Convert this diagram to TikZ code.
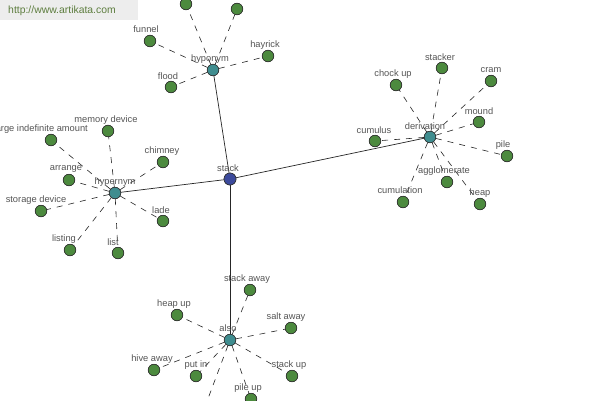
\documentclass[tikz,border=0pt]{standalone}
\usepackage{fontspec}
\setmainfont{Liberation Sans}
\begin{document}
\begin{tikzpicture}[x=1pt,y=-1pt,
  leaf/.style={circle,draw=black!80,line width=0.6pt,fill=leafgreen,minimum size=11.5pt,inner sep=0pt},
  hub/.style={circle,draw=black!80,line width=0.6pt,fill=hubteal,minimum size=11.5pt,inner sep=0pt},
  root/.style={circle,draw=black!80,line width=0.6pt,fill=rootblue,minimum size=12pt,inner sep=0pt},
  lbl/.style={text=labelgray,font=\fontsize{9.3}{10}\selectfont,inner sep=0pt},
  rel/.style={line width=0.7pt,black!85},
  sub/.style={line width=0.6pt,black!85,dash pattern=on 6pt off 6pt}]
\definecolor{leafgreen}{HTML}{4C8A3E}
\definecolor{hubteal}{HTML}{3F8D8F}
\definecolor{rootblue}{HTML}{3C4A9C}
\definecolor{labelgray}{HTML}{555555}
\definecolor{wmgray}{HTML}{EDEDED}
\definecolor{wmgreen}{HTML}{5D7D3E}
\useasboundingbox (0,0) rectangle (600,400);
\clip (0,0) rectangle (600,400);
\fill[white] (0,0) rectangle (600,400);
% watermark
\fill[wmgray] (0,0) rectangle (138,20);
\node[text=wmgreen,font=\fontsize{10.4}{11}\selectfont,inner sep=0pt] (wm) at (62,11) {http://www.artikata.com};
% hubs
\node[root] (stack) at (230,179) {};
\node[hub] (hypo) at (213,70) {};
\node[hub] (hyper) at (115,193) {};
\node[hub] (deriv) at (430,137) {};
\node[hub] (also) at (230,340) {};
% hyponym leaves
\node[leaf] (h1) at (186,4) {};
\node[leaf] (h2) at (237,9) {};
\node[leaf] (funnel) at (150,41) {};
\node[leaf] (hayrick) at (268,56) {};
\node[leaf] (flood) at (171,87) {};
% hypernym leaves
\node[leaf] (lia) at (51,140) {};
\node[leaf] (memdev) at (108,131) {};
\node[leaf] (chimney) at (163,162) {};
\node[leaf] (arrange) at (69,180) {};
\node[leaf] (stordev) at (41,211) {};
\node[leaf] (lade) at (163,221) {};
\node[leaf] (listing) at (70,250) {};
\node[leaf] (list) at (118,253) {};
% derivation leaves
\node[leaf] (stacker) at (442,68) {};
\node[leaf] (chockup) at (396,85) {};
\node[leaf] (cram) at (491,81) {};
\node[leaf] (mound) at (479,122) {};
\node[leaf] (cumulus) at (375,141) {};
\node[leaf] (pile) at (507,156) {};
\node[leaf] (agglom) at (447,182) {};
\node[leaf] (cumulation) at (403,202) {};
\node[leaf] (heap) at (480,204) {};
% also leaves
\node[leaf] (stackaway) at (250,290) {};
\node[leaf] (heapup) at (177,315) {};
\node[leaf] (saltaway) at (291,328) {};
\node[leaf] (hiveaway) at (154,370) {};
\node[leaf] (putin) at (196,376) {};
\node[leaf] (stackup) at (292,376) {};
\node[leaf] (pileup) at (251,399) {};
\node[leaf] (a8) at (203,412) {};
% connectors
\draw[rel] (stack) -- (hypo);
\draw[rel] (stack) -- (hyper);
\draw[rel] (stack) -- (deriv);
\draw[rel] (stack) -- (also);
\foreach \l in {h1,h2,funnel,hayrick,flood} \draw[sub] (hypo) -- (\l);
\foreach \l in {lia,memdev,chimney,arrange,stordev,lade,listing,list} \draw[sub] (hyper) -- (\l);
\foreach \l in {stacker,chockup,cram,mound,cumulus,pile,agglom,cumulation,heap} \draw[sub] (deriv) -- (\l);
\foreach \l in {stackaway,heapup,saltaway,hiveaway,putin,stackup,pileup,a8} \draw[sub] (also) -- (\l);
% redraw nodes on top
\foreach \n/\p in {h1/{186,4},h2/{237,9},funnel/{150,41},hayrick/{268,56},flood/{171,87},
  lia/{51,140},memdev/{108,131},chimney/{163,162},arrange/{69,180},stordev/{41,211},lade/{163,221},listing/{70,250},list/{118,253},
  stacker/{442,68},chockup/{396,85},cram/{491,81},mound/{479,122},cumulus/{375,141},pile/{507,156},agglom/{447,182},cumulation/{403,202},heap/{480,204},
  stackaway/{250,290},heapup/{177,315},saltaway/{291,328},hiveaway/{154,370},putin/{196,376},stackup/{292,376},pileup/{251,399},a8/{203,412}}
  \node[leaf] at (\p) {};
\node[root] at (230,179) {};
\foreach \p in {{213,70},{115,193},{430,137},{230,340}} \node[hub] at (\p) {};
% labels
\node[lbl] (Lstack) at (228,168) {stack};
\node[lbl] (Lhypo) at (210,59) {hyponym};
\node[lbl] (Lhyper) at (115,182) {hypernym};
\node[lbl] (Lderiv) at (425,126) {derivation};
\node[lbl] (Lalso) at (228,328) {also};
\node[lbl] (Lfunnel) at (146,29) {funnel};
\node[lbl] (Lhayrick) at (265,45) {hayrick};
\node[lbl] (Lflood) at (168,76) {flood};
\node[lbl,anchor=east] (Llia) at (88,129) {large indefinite amount};
\node[lbl] (Lmemdev) at (106,120) {memory device};
\node[lbl] (Lchimney) at (162,151) {chimney};
\node[lbl] (Larrange) at (66,169) {arrange};
\node[lbl] (Lstordev) at (36,200) {storage device};
\node[lbl] (Llade) at (161,210) {lade};
\node[lbl] (Llisting) at (64,239) {listing};
\node[lbl] (Llist) at (113,242) {list};
\node[lbl] (Lstacker) at (440,57) {stacker};
\node[lbl] (Lchockup) at (393,74) {chock up};
\node[lbl] (Lcram) at (491,70) {cram};
\node[lbl] (Lmound) at (479,111) {mound};
\node[lbl] (Lcumulus) at (374,130) {cumulus};
\node[lbl] (Lpile) at (503,145) {pile};
\node[lbl] (Lagglom) at (444,171) {agglomerate};
\node[lbl] (Lcumulation) at (400,190) {cumulation};
\node[lbl] (Lheap) at (480,193) {heap};
\node[lbl] (Lstackaway) at (247,279) {stack away};
\node[lbl] (Lheapup) at (174,304) {heap up};
\node[lbl] (Lsaltaway) at (286,317) {salt away};
\node[lbl] (Lhiveaway) at (152,359) {hive away};
\node[lbl] (Lputin) at (196,365) {put in};
\node[lbl] (Lstackup) at (289,365) {stack up};
\node[lbl] (Lpileup) at (248,388) {pile up};
\end{tikzpicture}
\end{document}
